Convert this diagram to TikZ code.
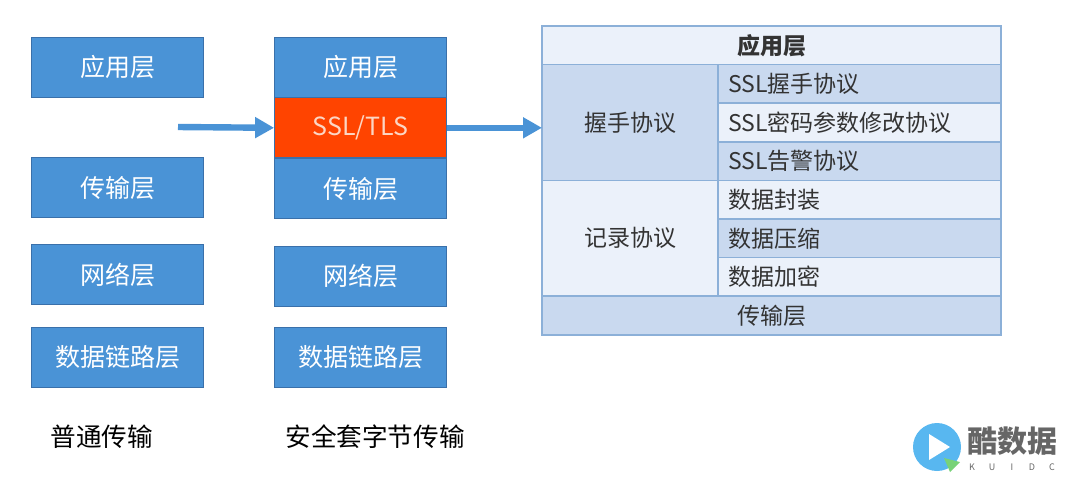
\documentclass[tikz,border=0pt]{standalone}
\usepackage{fontspec}
\setmainfont{Noto Sans CJK SC}
\usetikzlibrary{positioning, arrows.meta}
\definecolor{layerblue}{RGB}{74,147,214}
\definecolor{layerline}{RGB}{58,112,170}
\definecolor{sslred}{RGB}{255,68,0}
\definecolor{ssltext}{RGB}{252,214,196}
\definecolor{tabline}{RGB}{140,176,216}
\definecolor{tabdark}{RGB}{201,217,239}
\definecolor{tablight}{RGB}{235,241,250}
\definecolor{logoblue}{RGB}{88,183,240}
\definecolor{logogreen}{RGB}{120,210,120}

\begin{document}
\begin{tikzpicture}[x=0.5pt, y=-0.5pt, node distance=0pt,
  layer/.style={draw=layerline, fill=layerblue, text=white, minimum width=86pt, minimum height=30pt, inner sep=0pt, font=\fontsize{12.5}{14}\selectfont},
  ssl/.style={layer, fill=sslred, text=ssltext},
  flow/.style={draw=layerblue, line width=3.2pt, -{Triangle[length=9.5pt, width=10pt]}},
  cell/.style={draw=tabline, line width=0.75pt, inner sep=0pt, outer sep=0pt, minimum height=19.3pt, text=black!80, font=\fontsize{11.5}{13}\selectfont},
  sub/.style={cell, text width=131.5pt, align=left, inner xsep=5pt},
  dark/.style={fill=tabdark}, light/.style={fill=tablight},
  caption/.style={inner sep=0pt, text=black, font=\fontsize{12.8}{15}\selectfont},
  brand/.style={inner sep=0pt, text=black!60, font=\fontsize{4.5}{5}\selectfont}]
 \useasboundingbox (0,0) rectangle (1080,494);
 \node[layer] (app) at (117.5,67) {应用层};
 \node[layer, below=30pt of app] (tl) {传输层};
 \node[layer, below=13pt of tl] (net) {网络层};
 \node[layer, below=11pt of net] (link) {数据链路层};
 \node[layer] (sapp) at (360.5,67) {应用层};
 \node[ssl, below=of sapp] (ssl) {SSL/TLS};
 \node[layer, below=of ssl] (stl) {传输层};
 \node[layer, below=13.5pt of stl] (snet) {网络层};
 \node[layer, below=10pt of snet] (slink) {数据链路层};
 \node[caption, anchor=west] (plain) at (50,437) {普通传输};
 \node[caption, anchor=west] (secure) at (285,437) {安全套字节传输};
 \node[cell, light, minimum width=229.5pt, font=\fontsize{11.5}{13}\selectfont\bfseries] (tapp) at (771.5,45.3) {应用层};
 \node[cell, dark, minimum width=88pt, minimum height=57.9pt, anchor=north west] (hs) at (tapp.south west) {握手协议};
 \node[sub, dark, anchor=north west] (hs1) at (hs.north east) {SSL握手协议};
 \node[sub, light, below=of hs1] (hs2) {SSL密码参数修改协议};
 \node[sub, dark, below=of hs2] (hs3) {SSL告警协议};
 \node[cell, light, minimum width=88pt, minimum height=57.9pt, anchor=north west] (rec) at (hs.south west) {记录协议};
 \node[sub, light, anchor=north west] (rec1) at (rec.north east) {数据封装};
 \node[sub, dark, below=of rec1] (rec2) {数据压缩};
 \node[sub, light, below=of rec2] (rec3) {数据加密};
 \node[cell, dark, minimum width=229.5pt, anchor=north west] (ttl) at (rec.south west) {传输层};
 \coordinate (src) at (178,127);
 \draw[flow] (src) -- (ssl.west);
 \draw[flow] (ssl.east) -- (ssl.east -| hs.west);
 \fill[logoblue] (937,447) circle[radius=12pt];
 \fill[white] (929,434) -- (950,447) -- (929,460) -- cycle;
 \fill[logogreen] (944,458) -- (960,462) -- (950,472) -- cycle;
 \node[inner sep=0pt, text=black!60, font=\fontsize{15}{16}\selectfont\bfseries] (logo) at (1012,441) {酷数据};
 \foreach \c [count=\i] in {K,U,I,D,C}
  \node[brand] (kd\i) at (972+20*\i-20,467) {\c};
\end{tikzpicture}
\end{document}
